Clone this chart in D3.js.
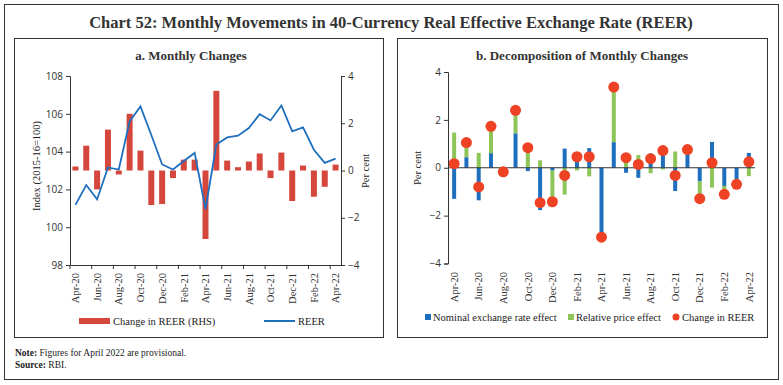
<!DOCTYPE html>
<html>
<head>
<meta charset="utf-8">
<script src="https://cdn.jsdelivr.net/npm/d3@7"></script>
<style>
  body { margin: 0; background: #fff; }
  text { font-family: "Liberation Serif", serif; fill: #222; }
  .num { font-family: "Open Sans", sans-serif; }
</style>
</head>
<body>
<svg></svg>
<script>
var width = 783;
var height = 385;

// data
var months = ['Apr-20', 'May-20', 'Jun-20', 'Jul-20', 'Aug-20', 'Sep-20', 'Oct-20', 'Nov-20', 'Dec-20',
    'Jan-21', 'Feb-21', 'Mar-21', 'Apr-21', 'May-21', 'Jun-21', 'Jul-21', 'Aug-21', 'Sep-21', 'Oct-21',
    'Nov-21', 'Dec-21', 'Jan-22', 'Feb-22', 'Mar-22', 'Apr-22'];
var reer = [101.18, 102.23, 101.47, 103.16, 103.05, 105.6, 106.39, 104.88, 103.32,
    103.05, 103.5, 103.93, 100.95, 104.37, 104.75, 104.84, 105.25, 105.98, 105.65,
    106.44, 105.07, 105.28, 104.1, 103.4, 103.63];
var reerChange = [0.17, 1.05, -0.8, 1.73, -0.17, 2.4, 0.84, -1.46, -1.42,
    -0.32, 0.46, 0.46, -2.9, 3.37, 0.42, 0.14, 0.38, 0.72, -0.32,
    0.76, -1.29, 0.21, -1.11, -0.69, 0.25];
var nominalEffect = [-1.3, 0.44, -1.36, 0.61, -0.12, 1.44, -0.14, -1.77, -0.12,
    0.8, 0.55, 0.82, -2.85, 1.07, -0.21, -0.42, 0.6, 0.8, -0.97,
    0.55, -0.56, 1.08, -0.76, -0.49, 0.62];
var priceEffect = [1.47, 0.6, 0.62, 1.12, -0.03, 0.98, 0.98, 0.31, -1.3,
    -1.12, -0.11, -0.36, -0.04, 2.3, 0.6, 0.53, -0.23, -0.07, 0.68,
    0.21, -0.73, -0.83, -0.36, -0.18, -0.35];
var leftTicks = [98, 100, 102, 104, 106, 108];
var rightTicks = [-4, -2, 0, 2, 4];

var red = '#d5473c', blue = '#1f6fbf', green = '#8dc559', dotRed = '#ef4124';

var svg = d3.select('svg')
    .attr('width', width)
    .attr('height', height);

// frames
svg.append('rect').attr('x', 4.5).attr('y', 4.5).attr('width', 774).attr('height', 375)
    .attr('fill', 'none').attr('stroke', '#333').attr('stroke-width', 1);
svg.append('rect').attr('x', 14.5).attr('y', 38.5).attr('width', 369).attr('height', 299)
    .attr('fill', 'none').attr('stroke', '#333').attr('stroke-width', 1);
svg.append('rect').attr('x', 397.5).attr('y', 38.5).attr('width', 370).attr('height', 299)
    .attr('fill', 'none').attr('stroke', '#333').attr('stroke-width', 1);

svg.append('text').attr('x', 391).attr('y', 28).attr('text-anchor', 'middle')
    .style('font-size', '16.5px').style('font-weight', 'bold').style('fill', '#333')
    .text('Chart 52: Monthly Movements in 40-Currency Real Effective Exchange Rate (REER)');
svg.append('text').attr('x', 191).attr('y', 60).attr('text-anchor', 'middle')
    .style('font-size', '13px').style('font-weight', 'bold').style('fill', '#333')
    .text('a. Monthly Changes');
svg.append('text').attr('x', 582).attr('y', 60).attr('text-anchor', 'middle')
    .style('font-size', '13px').style('font-weight', 'bold').style('fill', '#333')
    .text('b. Decomposition of Monthly Changes');

var evenMonths = months.filter(function (d, i) { return i % 2 === 0; });

// ---------- panel a ----------
var xL = d3.scaleBand().domain(months).range([70, 341]);
var yL = d3.scaleLinear().domain([98, 108]).range([265, 76]);
var yR = d3.scaleLinear().domain([-4, 4]).range([265, 76]);

var gA = svg.append('g');

gA.selectAll('rect.chg')
    .data(reerChange)
    .enter()
    .append('rect')
    .attr('class', 'chg')
    .attr('x', function (d, i) { return xL(months[i]) + xL.bandwidth() / 2 - 3; })
    .attr('width', 6)
    .attr('y', function (d) { return yR(Math.max(0, d)); })
    .attr('height', function (d) { return Math.abs(yR(d) - yR(0)); })
    .attr('fill', red);

var line = d3.line()
    .x(function (d, i) { return xL(months[i]) + xL.bandwidth() / 2; })
    .y(function (d) { return yL(d); });

gA.append('path')
    .datum(reer)
    .attr('d', line)
    .attr('fill', 'none')
    .attr('stroke', blue)
    .attr('stroke-width', 1.8);

var axL = gA.append('g').attr('transform', 'translate(70,0)')
    .call(d3.axisLeft(yL).tickValues(leftTicks).tickSize(4).tickPadding(3));
var axR = gA.append('g').attr('transform', 'translate(341,0)')
    .call(d3.axisRight(yR).tickValues(rightTicks).tickSize(4).tickPadding(3));
[axL, axR].forEach(function (a) {
    a.selectAll('text').attr('class', 'num').style('font-size', '10px').style('fill', '#333');
    a.selectAll('line, path').attr('stroke', '#333');
});

var axB = gA.append('g').attr('transform', 'translate(0,265)')
    .call(d3.axisBottom(xL).tickValues(evenMonths).tickSize(4).tickSizeOuter(0));
axB.select('.domain').attr('stroke', '#333');
axB.selectAll('.tick line').attr('stroke', '#333')
    .attr('x1', -xL.bandwidth() / 2).attr('x2', -xL.bandwidth() / 2);
axB.selectAll('.tick text')
    .attr('transform', 'rotate(-90)')
    .attr('x', -8).attr('y', 0).attr('dy', '0.35em')
    .attr('text-anchor', 'end')
    .style('font-family', '"Liberation Serif", serif')
    .style('font-size', '10.5px').style('fill', '#333');

gA.append('text')
    .attr('transform', 'translate(40,166) rotate(-90)')
    .attr('text-anchor', 'middle')
    .style('font-size', '10.5px')
    .text('Index (2015-16=100)');
gA.append('text')
    .attr('transform', 'translate(369,171) rotate(-90)')
    .attr('text-anchor', 'middle')
    .style('font-size', '10.5px')
    .text('Per cent');

// legend a
gA.append('rect').attr('x', 79).attr('y', 318).attr('width', 31).attr('height', 6).attr('fill', red);
gA.append('text').attr('x', 113).attr('y', 325).style('font-size', '10.5px').text('Change in REER (RHS)');
gA.append('line').attr('x1', 264).attr('x2', 295).attr('y1', 321).attr('y2', 321)
    .attr('stroke', blue).attr('stroke-width', 2);
gA.append('text').attr('x', 298).attr('y', 325).style('font-size', '10.5px').text('REER');

// ---------- panel b ----------
var xB = d3.scaleBand().domain(months).range([448, 755]);
var yB = d3.scaleLinear().domain([-4, 4]).range([263.5, 72]);

var gB = svg.append('g');

var rows = months.map(function (m, i) {
    return { month: m, nominal: nominalEffect[i], price: priceEffect[i] };
});
var series = d3.stack()
    .keys(['nominal', 'price'])
    .offset(d3.stackOffsetDiverging)(rows);
var colors = { nominal: blue, price: green };

gB.selectAll('g.series')
    .data(series)
    .enter()
    .append('g')
    .attr('fill', function (s) { return colors[s.key]; })
    .selectAll('rect')
    .data(function (s) { return s; })
    .enter()
    .append('rect')
    .attr('x', function (d) { return xB(d.data.month) + xB.bandwidth() / 2 - 2; })
    .attr('width', 4)
    .attr('y', function (d) { return yB(Math.max(d[0], d[1])); })
    .attr('height', function (d) { return Math.abs(yB(d[0]) - yB(d[1])); });

gB.append('line')
    .attr('x1', 448).attr('x2', 755)
    .attr('y1', yB(0)).attr('y2', yB(0))
    .attr('stroke', '#333').attr('stroke-width', 1);

gB.selectAll('circle')
    .data(reerChange)
    .enter()
    .append('circle')
    .attr('cx', function (d, i) { return xB(months[i]) + xB.bandwidth() / 2; })
    .attr('cy', function (d) { return yB(d); })
    .attr('r', 5.5)
    .attr('fill', dotRed);

var axB2 = gB.append('g').attr('transform', 'translate(448,0)')
    .call(d3.axisLeft(yB).tickValues(rightTicks).tickSize(4).tickPadding(3));
axB2.selectAll('text').attr('class', 'num').style('font-size', '10px').style('fill', '#333');
axB2.selectAll('line, path').attr('stroke', '#333');

gB.selectAll('text.xl')
    .data(evenMonths)
    .enter()
    .append('text')
    .attr('class', 'xl')
    .attr('transform', function (d) {
        return 'translate(' + (xB(d) + xB.bandwidth() / 2) + ',272) rotate(-90)';
    })
    .attr('dy', '0.35em')
    .attr('text-anchor', 'end')
    .style('font-size', '10.5px')
    .style('fill', '#333')
    .text(function (d) { return d; });

gB.append('text')
    .attr('transform', 'translate(421,168) rotate(-90)')
    .attr('text-anchor', 'middle')
    .style('font-size', '10.5px')
    .text('Per cent');

// legend b
gB.append('rect').attr('x', 425).attr('y', 314).attr('width', 6).attr('height', 6).attr('fill', blue);
gB.append('text').attr('x', 433).attr('y', 321).style('font-size', '10.5px').text('Nominal exchange rate effect');
gB.append('rect').attr('x', 568).attr('y', 314).attr('width', 6).attr('height', 6).attr('fill', green);
gB.append('text').attr('x', 576).attr('y', 321).style('font-size', '10.5px').text('Relative price effect');
gB.append('circle').attr('cx', 676).attr('cy', 317).attr('r', 3.5).attr('fill', dotRed);
gB.append('text').attr('x', 682).attr('y', 321).style('font-size', '10.5px').text('Change in REER');

// notes
var note = svg.append('text').attr('x', 15).attr('y', 356).style('font-size', '9.5px');
note.append('tspan').style('font-weight', 'bold').text('Note: ');
note.append('tspan').text('Figures for April 2022 are provisional.');
var src = svg.append('text').attr('x', 15).attr('y', 368).style('font-size', '9.5px');
src.append('tspan').style('font-weight', 'bold').text('Source: ');
src.append('tspan').text('RBI.');
</script>
</body>
</html>
